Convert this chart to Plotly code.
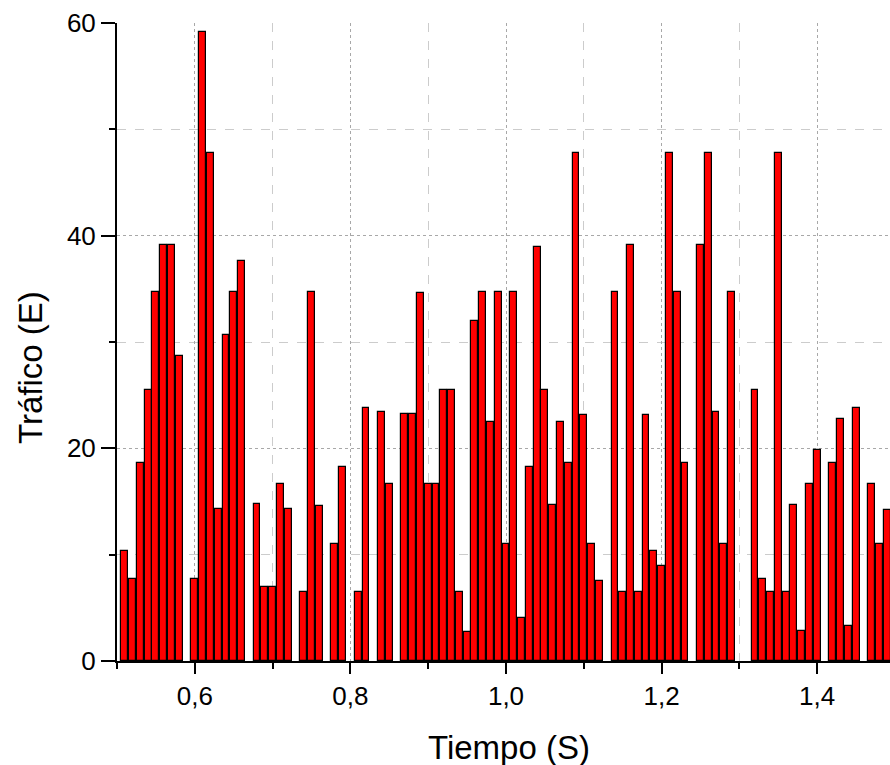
import plotly.graph_objects as go

tiempo = [0.51, 0.52, 0.53, 0.54, 0.55, 0.56, 0.57, 0.58,
          0.60, 0.61, 0.62, 0.63, 0.64, 0.65, 0.66,
          0.68, 0.69, 0.70, 0.71, 0.72,
          0.74, 0.75, 0.76,
          0.78, 0.79,
          0.81, 0.82,
          0.84, 0.85,
          0.87, 0.88, 0.89, 0.90, 0.91, 0.92, 0.93, 0.94, 0.95, 0.96, 0.97, 0.98, 0.99,
          1.00, 1.01, 1.02, 1.03, 1.04, 1.05, 1.06, 1.07, 1.08, 1.09, 1.10, 1.11, 1.12,
          1.14, 1.15, 1.16, 1.17, 1.18, 1.19, 1.20, 1.21, 1.22, 1.23,
          1.25, 1.26, 1.27, 1.28, 1.29,
          1.32, 1.33, 1.34, 1.35, 1.36, 1.37, 1.38, 1.39, 1.40,
          1.42, 1.43, 1.44, 1.45,
          1.47, 1.48, 1.49]

trafico = [10.3, 7.7, 18.6, 25.5, 34.7, 39.1, 39.1, 28.7,
           7.7, 59.2, 47.8, 14.3, 30.7, 34.7, 37.6,
           14.8, 7.0, 7.0, 16.6, 14.3,
           6.5, 34.7, 14.6,
           11.0, 18.2,
           6.5, 23.8,
           23.4, 16.6,
           23.2, 23.2, 34.6, 16.6, 16.6, 25.5, 25.5, 6.5, 2.7, 32.0, 34.7, 22.5, 34.7,
           11.0, 34.7, 4.0, 18.2, 38.9, 25.5, 14.7, 22.5, 18.6, 47.8, 23.1, 11.0, 7.5,
           34.7, 6.5, 39.1, 6.5, 23.1, 10.3, 8.9, 47.8, 34.7, 18.6,
           39.1, 47.8, 23.4, 11.0, 34.7,
           25.5, 7.7, 6.5, 47.8, 6.5, 14.7, 2.8, 16.6, 19.8,
           18.6, 22.8, 3.3, 23.8,
           16.6, 11.0, 14.2]

x_title = "Tiempo (S)"
y_title = "Tráfico (E)"

W, H = 890, 765
L, R, T, B = 117, 0, 23, 104

fig = go.Figure()
fig.add_trace(go.Bar(
    x=tiempo, y=trafico, width=0.0088,
    marker=dict(color="#ff0000", line=dict(color="#000000", width=1.2)),
    showlegend=False,
))

font = "Liberation Sans, Arial, sans-serif"

fig.update_layout(
    width=W, height=H,
    margin=dict(l=L, r=R, t=T, b=B),
    paper_bgcolor="white", plot_bgcolor="white",
    separators=",.",
    font=dict(family=font, color="black", size=26),
    bargap=0,
    xaxis=dict(
        range=[0.5, 0.5 + 773 / 778], tick0=0, dtick=0.2, tickformat=".1f",
        showline=True, linecolor="black", linewidth=2,
        ticks="outside", ticklen=11, tickwidth=2, tickcolor="black",
        showgrid=True, gridcolor="#a8a8a8", griddash="dot", gridwidth=1,
        zeroline=False,
        tickfont=dict(size=26, family=font),
        minor=dict(dtick=0.1, ticks="outside", ticklen=6, tickwidth=2, tickcolor="black",
                   showgrid=True, gridcolor="#cccccc", griddash="dash", gridwidth=1),
    ),
    yaxis=dict(
        range=[0, 60], tick0=0, dtick=20,
        showline=True, linecolor="black", linewidth=2,
        ticks="outside", ticklen=14, tickwidth=2, tickcolor="black",
        showgrid=True, gridcolor="#a8a8a8", griddash="dot", gridwidth=1,
        zeroline=False,
        tickfont=dict(size=26, family=font),
        minor=dict(dtick=10, ticks="outside", ticklen=6, tickwidth=2, tickcolor="black",
                   showgrid=True, gridcolor="#cccccc", griddash="dash", gridwidth=1),
    ),
    annotations=[
        dict(text=x_title, xref="paper", yref="paper",
             x=(509 - L) / (W - L - R), y=-(748 - (H - B)) / (H - T - B),
             xanchor="center", yanchor="middle", showarrow=False,
             font=dict(size=33, family=font)),
        dict(text=y_title, xref="paper", yref="paper", textangle=-90,
             x=-(L - 30) / (W - L - R), y=((H - B) - 368) / (H - T - B),
             xanchor="center", yanchor="middle", showarrow=False,
             font=dict(size=33, family=font)),
    ],
)

fig.write_html("out.html")
